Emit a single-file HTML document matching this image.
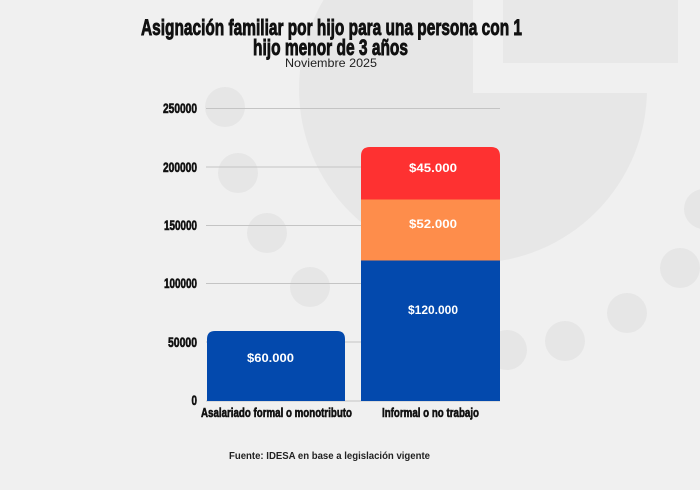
<!DOCTYPE html>
<html>
<head>
<meta charset="utf-8">
<style>
  html, body { margin: 0; padding: 0; background: #f0f0f0; }
  body { width: 700px; height: 490px; overflow: hidden; }
  svg { display: block; }
  .cond { font-family: "Liberation Sans Narrow", "Liberation Sans", sans-serif; font-weight: bold; fill: #111; stroke: #111; }
  .val { font-family: "Liberation Sans", sans-serif; font-weight: bold; fill: #fff; font-size: 12px; }
</style>
</head>
<body>
<svg width="700" height="490" viewBox="0 0 700 490" xmlns="http://www.w3.org/2000/svg">
  <!-- background -->
  <rect x="0" y="0" width="700" height="490" fill="#f0f0f0"/>
  <!-- big G-like disc -->
  <circle cx="473" cy="89" r="174" fill="#e7e7e7"/>
  <rect x="473" y="0" width="227" height="93" fill="#f0f0f0"/>
  <rect x="503" y="0" width="175" height="63" fill="#e8e8e8"/>
  <!-- dots -->
  <g fill="#e6e6e6">
    <circle cx="225" cy="107" r="20"/>
    <circle cx="238" cy="173" r="20"/>
    <circle cx="267" cy="233" r="20"/>
    <circle cx="310" cy="287" r="20"/>
    <circle cx="507" cy="350" r="20"/>
    <circle cx="565" cy="341" r="20"/>
    <circle cx="627" cy="313" r="20"/>
    <circle cx="680" cy="268" r="20"/>
    <circle cx="704" cy="209" r="20"/>
  </g>

  <!-- title -->
  <text class="cond" x="141" y="35" font-size="22" stroke-width="0.9" textLength="381" lengthAdjust="spacingAndGlyphs">Asignación familiar por hijo para una persona con 1</text>
  <text class="cond" x="253" y="55" font-size="22" stroke-width="0.9" textLength="155" lengthAdjust="spacingAndGlyphs">hijo menor de 3 años</text>
  <text x="285" y="67" font-family="Liberation Sans, sans-serif" font-size="12" fill="#222" textLength="92" lengthAdjust="spacingAndGlyphs">Noviembre 2025</text>

  <!-- gridlines -->
  <g stroke="#c4c4c4" stroke-width="1">
    <line x1="206" y1="108.5" x2="500" y2="108.5"/>
    <line x1="206" y1="167" x2="500" y2="167"/>
    <line x1="206" y1="225.5" x2="500" y2="225.5"/>
    <line x1="206" y1="283.5" x2="500" y2="283.5"/>
    <line x1="206" y1="342" x2="500" y2="342"/>
    <line x1="206" y1="401" x2="500" y2="401"/>
  </g>

  <!-- y tick labels -->
  <g class="cond" font-size="14" stroke-width="0.6" text-anchor="end">
    <text x="197" y="113" textLength="34" lengthAdjust="spacingAndGlyphs">250000</text>
    <text x="197" y="172" textLength="34" lengthAdjust="spacingAndGlyphs">200000</text>
    <text x="197" y="230" textLength="33" lengthAdjust="spacingAndGlyphs">150000</text>
    <text x="197" y="288" textLength="33" lengthAdjust="spacingAndGlyphs">100000</text>
    <text x="197" y="347" textLength="29" lengthAdjust="spacingAndGlyphs">50000</text>
    <text x="197" y="405" textLength="5.5" lengthAdjust="spacingAndGlyphs">0</text>
  </g>

  <!-- bar 1 -->
  <path d="M207 401 L207 339 Q207 331 215 331 L337 331 Q345 331 345 339 L345 401 Z" fill="#0349ad"/>
  <!-- bar 2 -->
  <rect x="361" y="260.5" width="139" height="140.5" fill="#0349ad"/>
  <rect x="361" y="199.5" width="139" height="61" fill="#fe8d4b"/>
  <path d="M361 199.5 L361 156 Q361 147 370 147 L491 147 Q500 147 500 156 L500 199.5 Z" fill="#fe3131"/>

  <!-- value labels -->
  <text class="val" x="247" y="362" textLength="47" lengthAdjust="spacingAndGlyphs">$60.000</text>
  <text class="val" x="408" y="314" textLength="50" lengthAdjust="spacingAndGlyphs">$120.000</text>
  <text class="val" x="409" y="228" textLength="48" lengthAdjust="spacingAndGlyphs">$52.000</text>
  <text class="val" x="409" y="172" textLength="48" lengthAdjust="spacingAndGlyphs">$45.000</text>

  <!-- category labels -->
  <text class="cond" x="201" y="417" font-size="13" stroke-width="0.6" textLength="151" lengthAdjust="spacingAndGlyphs">Asalariado formal o monotributo</text>
  <text class="cond" x="382" y="417" font-size="13" stroke-width="0.6" textLength="97" lengthAdjust="spacingAndGlyphs">Informal o no trabajo</text>

  <!-- source -->
  <text x="229" y="459" font-family="Liberation Sans, sans-serif" font-weight="bold" font-size="10" fill="#222" textLength="201" lengthAdjust="spacingAndGlyphs">Fuente: IDESA en base a legislación vigente</text>
</svg>
</body>
</html>
